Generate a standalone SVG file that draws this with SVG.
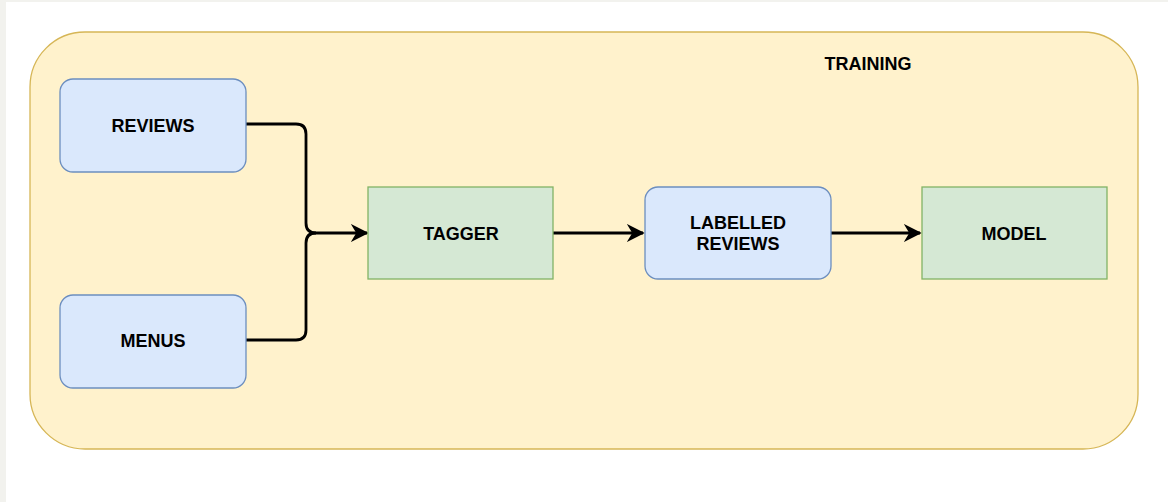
<svg xmlns="http://www.w3.org/2000/svg" width="1168" height="502" viewBox="0 0 1168 502">
<style>
.lbl{font-family:"Liberation Sans",Arial,sans-serif;font-weight:bold;font-size:18px;fill:#000;text-anchor:middle;dominant-baseline:central}
.blue{fill:#dae8fc;stroke:#6c8ebf;stroke-width:1.3}
.green{fill:#d5e8d4;stroke:#82b366;stroke-width:1.3}
.conn{fill:none;stroke:#000;stroke-width:2.8;stroke-linejoin:round}
</style>
<defs>
<marker id="arr" viewBox="0 0 10 10" refX="9" refY="5" markerWidth="6.4" markerHeight="6.4" markerUnits="strokeWidth" orient="auto">
<path d="M0,0 L10,5 L0,10 L3,5 Z" fill="#000"/>
</marker>
</defs>
<rect x="0" y="0" width="1168" height="502" fill="#f2f2ee"/>
<rect x="6" y="2" width="1162" height="500" fill="#ffffff"/>
<g id="training">
<rect x="30" y="32" width="1108" height="417" rx="55" ry="55" fill="#fff2cc" stroke="#d6b656" stroke-width="1.3"/>
<text class="lbl" x="868" y="64">TRAINING</text>
</g>
<g id="connectors">
<path class="conn" d="M246,124 H296 Q306,124 306,134 V223 Q306,233 316,233 H367" marker-end="url(#arr)"/>
<path class="conn" d="M246,340 H296 Q306,340 306,330 V243 Q306,233 316,233"/>
<path class="conn" d="M553,233 H643" marker-end="url(#arr)"/>
<path class="conn" d="M831,233 H920" marker-end="url(#arr)"/>
</g>
<g id="reviews">
<rect class="blue" x="60" y="79" width="186" height="93" rx="13"/>
<text class="lbl" x="153" y="126">REVIEWS</text>
</g>
<g id="menus">
<rect class="blue" x="60" y="295" width="186" height="93" rx="13"/>
<text class="lbl" x="153" y="341">MENUS</text>
</g>
<g id="tagger">
<rect class="green" x="368" y="187" width="185" height="92"/>
<text class="lbl" x="461" y="234">TAGGER</text>
</g>
<g id="labelled">
<rect class="blue" x="645" y="187" width="186" height="92" rx="13"/>
<text class="lbl" x="738" y="223">LABELLED</text>
<text class="lbl" x="738" y="244">REVIEWS</text>
</g>
<g id="model">
<rect class="green" x="922" y="187" width="185" height="92"/>
<text class="lbl" x="1014" y="234">MODEL</text>
</g>
</svg>
